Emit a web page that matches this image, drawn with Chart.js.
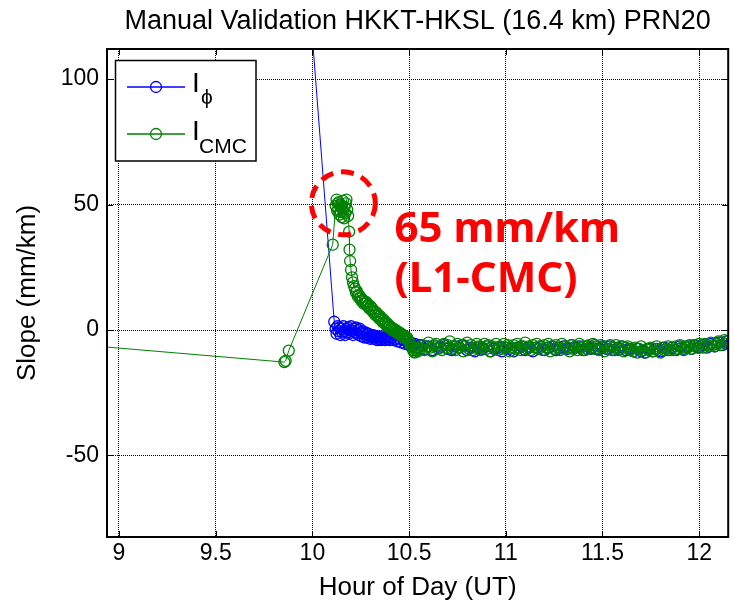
<!DOCTYPE html>
<html lang="en">
<head>
<meta charset="UTF-8">
<title>Manual Validation HKKT-HKSL (16.4 km) PRN20</title>
<script src="https://cdn.jsdelivr.net/npm/chart.js@4.4.1/dist/chart.umd.min.js"></script>
<style>
  html, body { margin: 0; padding: 0; background: #fff; }
  #wrap { width: 735px; height: 605px; position: relative; }
</style>
</head>
<body>
<div id="wrap"><canvas id="slopeChart"></canvas></div>
<script>
// axis ticks
const xTicks = [9, 9.5, 10, 10.5, 11, 11.5, 12];
const yTicks = [-50, 0, 50, 100];

// I_phi (blue)
const phiHours = [
  9.90, 10.113,
  10.120, 10.125, 10.130, 10.135, 10.140, 10.145, 10.150, 10.155, 10.160, 10.165,
  10.170, 10.175, 10.180, 10.185, 10.190, 10.195, 10.200, 10.205, 10.210, 10.215,
  10.220, 10.225, 10.230, 10.235, 10.240, 10.245, 10.250, 10.255, 10.260, 10.265,
  10.270, 10.275, 10.280, 10.285, 10.290, 10.295, 10.300, 10.305, 10.310, 10.315,
  10.320, 10.325, 10.330, 10.335, 10.340, 10.345, 10.350, 10.355, 10.360, 10.365,
  10.370, 10.375, 10.380, 10.385, 10.390, 10.395, 10.400,
  10.41, 10.42, 10.43, 10.44, 10.45, 10.46, 10.47, 10.48, 10.49, 10.50,
  10.51, 10.52, 10.53, 10.54, 10.55,
  10.56, 10.58, 10.60, 10.62, 10.64, 10.66, 10.68, 10.70, 10.72, 10.74,
  10.76, 10.78, 10.80, 10.82, 10.84, 10.86, 10.88, 10.90, 10.92, 10.94,
  10.96, 10.98, 11.00, 11.02, 11.04, 11.06, 11.08, 11.10, 11.12, 11.14,
  11.16, 11.18, 11.20, 11.22, 11.24, 11.26, 11.28, 11.30, 11.32, 11.34,
  11.36, 11.38, 11.40, 11.42, 11.44, 11.46, 11.48, 11.50, 11.52, 11.54,
  11.56, 11.58, 11.60, 11.62, 11.64, 11.66, 11.68, 11.70, 11.72, 11.74,
  11.76, 11.78, 11.80, 11.82, 11.84, 11.86, 11.88, 11.90, 11.92, 11.94,
  11.96, 11.98, 12.00, 12.02, 12.04, 12.06, 12.08, 12.10, 12.12, 12.14,
  12.16
];
const phiSlope = [
  217, 3.3,
  0.5, -1.5, 1.5, -0.5, 1.0, -2.0, 0.5, -1.0, 1.5, -0.5,
  -2.0, 0.5, -1.0, 1.0, -1.5, 0.0, 1.5, -0.5, -2.0, 0.5,
  -1.0, 1.0, -1.5, 0.0, -2.0, 0.5, -1.0, -2.5, -0.5, -1.5,
  -3.0, -1.0, -2.0, -3.0, -1.5, -2.5, -3.5, -2.0, -3.0, -2.0,
  -3.5, -2.5, -3.0, -4.0, -2.5, -3.5, -3.0, -4.0, -2.5, -3.5,
  -3.0, -4.0, -3.0, -2.5, -3.5, -3.0, -4.0,
  -3.0, -4.0, -3.5, -4.5, -3.5, -5.0, -4.0, -5.5, -4.5, -6.0,
  -5.0, -6.5, -5.5, -7.0, -6.0,
  -6.0, -7.5, -6.5, -8.0, -6.5, -7.0, -6.0, -7.5, -8.0, -6.5,
  -7.0, -6.0, -8.0, -7.0, -8.5, -7.0, -7.5, -6.5, -8.5, -7.5,
  -7.0, -8.5, -7.0, -7.5, -8.5, -7.0, -6.5, -8.0, -7.0, -8.5,
  -7.0, -6.5, -8.0, -7.0, -6.5, -8.0, -7.0, -6.5, -7.5, -6.0,
  -7.0, -6.5, -8.0, -6.5, -7.5, -6.0, -7.5, -6.5, -7.5, -6.5,
  -8.0, -7.0, -6.5, -8.0, -7.5, -8.5, -7.5, -8.5, -9.0, -7.5,
  -8.5, -7.5, -8.5, -7.0, -8.0, -7.0, -8.0, -6.5, -7.5, -6.5,
  -7.5, -6.0, -7.0, -6.0, -7.0, -5.5, -6.5, -5.0, -6.0, -4.5,
  -5.5
];

// I_CMC (green)
const cmcHours = [
  8.80, 9.855, 9.862, 9.878, 10.105,
  10.120, 10.125, 10.128, 10.131, 10.134, 10.137, 10.140, 10.143, 10.146, 10.149,
  10.152, 10.155, 10.158, 10.161, 10.164, 10.167, 10.170, 10.173, 10.176, 10.180,
  10.185,
  10.190, 10.192, 10.195, 10.200, 10.205, 10.210, 10.215, 10.220, 10.225, 10.230,
  10.235, 10.240, 10.245, 10.250, 10.255, 10.260, 10.265, 10.270, 10.275, 10.280,
  10.285, 10.290, 10.295, 10.300, 10.305, 10.310, 10.315, 10.320, 10.325, 10.330,
  10.335, 10.340, 10.345, 10.350, 10.355, 10.360, 10.365, 10.370, 10.375, 10.380,
  10.385, 10.390, 10.395, 10.400, 10.405, 10.410, 10.415, 10.420, 10.425, 10.430,
  10.435, 10.440, 10.445, 10.450, 10.455, 10.460, 10.465, 10.470, 10.475, 10.480,
  10.485, 10.490, 10.495, 10.500, 10.505, 10.510, 10.515, 10.520, 10.525, 10.530,
  10.535, 10.540, 10.545, 10.550,
  10.56, 10.57, 10.58, 10.59, 10.60, 10.61, 10.62, 10.63, 10.64, 10.65,
  10.66, 10.67, 10.68, 10.69, 10.70, 10.71, 10.72, 10.73, 10.74, 10.75,
  10.76, 10.77, 10.78, 10.79, 10.80, 10.81, 10.82, 10.83, 10.84, 10.85,
  10.86, 10.87, 10.88, 10.89, 10.90, 10.91, 10.92, 10.93, 10.94, 10.95,
  10.96, 10.97, 10.98, 10.99, 11.00, 11.01, 11.02, 11.03, 11.04, 11.05,
  11.06, 11.07, 11.08, 11.09, 11.10, 11.11, 11.12, 11.13, 11.14, 11.15,
  11.16, 11.17, 11.18, 11.19, 11.20, 11.21, 11.22, 11.23, 11.24, 11.25,
  11.26, 11.27, 11.28, 11.29, 11.30, 11.31, 11.32, 11.33, 11.34, 11.35,
  11.36, 11.37, 11.38, 11.39, 11.40, 11.41, 11.42, 11.43, 11.44, 11.45,
  11.46, 11.47, 11.48, 11.49, 11.50, 11.51, 11.52, 11.53, 11.54, 11.55,
  11.56, 11.57, 11.58, 11.59, 11.60, 11.61, 11.62, 11.63, 11.64, 11.65,
  11.66, 11.67, 11.68, 11.69, 11.70, 11.71, 11.72, 11.73, 11.74, 11.75,
  11.76, 11.77, 11.78, 11.79, 11.80, 11.81, 11.82, 11.83, 11.84, 11.85,
  11.86, 11.87, 11.88, 11.89, 11.90, 11.91, 11.92, 11.93, 11.94, 11.95,
  11.96, 11.97, 11.98, 11.99, 12.00, 12.01, 12.02, 12.03, 12.04, 12.05,
  12.06, 12.07, 12.08, 12.09, 12.10, 12.11, 12.12, 12.13, 12.14, 12.15
];
const cmcSlope = [
  -5.9, -12.8, -12.3, -8.2, 34.0,
  49.5, 52.0, 47.5, 50.5, 48.0, 51.0, 46.0, 50.0, 47.0, 49.5,
  45.0, 48.5, 51.5, 47.0, 44.5, 49.0, 46.5, 50.5, 52.0, 48.0,
  45.5,
  39.2, 32.0, 27.5, 24.0, 21.0, 19.0, 17.5, 16.5, 15.0, 15.5,
  13.5, 14.0, 12.5, 13.0, 11.5, 12.0, 10.5, 11.5, 10.5, 11.0,
  9.5, 10.0, 8.5, 9.5, 8.0, 8.5, 7.0, 7.5, 6.0, 7.0,
  5.5, 6.0, 4.5, 5.5, 4.0, 4.5, 3.0, 4.0, 2.5, 3.0,
  1.5, 2.5, 1.0, 1.5, 0.5, 1.0, 0.0, 0.5, -0.5, 0.0,
  -1.0, -0.5, -1.5, -1.0, -2.0, -1.5, -2.5, -2.0, -3.0, -2.5,
  -3.5, -3.0, -4.0, -4.5, -5.5, -6.0, -7.0, -8.0, -8.6, -9.0,
  -8.0, -7.5, -8.5, -7.0,
  -7.5, -6.0, -8.0, -6.5, -5.0, -7.0, -8.5, -6.0, -5.5, -7.5,
  -6.5, -8.0, -5.5, -7.0, -6.0, -4.5, -7.5, -6.5, -8.0, -5.5,
  -7.0, -6.0, -8.5, -6.5, -5.0, -7.5, -6.0, -8.0, -7.0, -5.5,
  -6.5, -8.0, -7.0, -5.5, -7.5, -6.0, -8.5, -6.5, -7.0, -5.5,
  -8.0, -6.5, -7.5, -5.5, -7.0, -6.0, -8.5, -7.0, -6.0, -7.5,
  -5.5, -7.0, -8.0, -6.5, -5.0, -7.5, -6.5, -8.0, -6.0, -7.0,
  -5.5, -7.5, -6.5, -8.0, -6.0, -7.0, -5.5, -8.5, -6.5, -7.5,
  -6.0, -7.0, -8.0, -5.5, -7.5, -6.5, -7.0, -8.5, -6.0, -7.5,
  -6.5, -8.0, -5.5, -7.0, -6.5, -8.0, -7.5, -6.0, -7.0, -5.5,
  -7.5, -6.5, -8.0, -6.0, -7.0, -8.5, -6.5, -7.5, -6.0, -8.0,
  -7.0, -6.0, -8.0, -7.5, -6.5, -8.5, -7.0, -6.5, -8.0, -7.5,
  -8.5, -7.0, -9.0, -7.5, -6.5, -8.0, -9.0, -7.5, -8.0, -7.0,
  -8.5, -7.5, -6.5, -8.0, -9.0, -7.0, -8.0, -7.5, -6.5, -8.0,
  -7.0, -8.0, -6.5, -7.5, -6.0, -7.0, -8.0, -6.5, -7.0, -6.0,
  -7.5, -6.0, -6.5, -7.0, -5.5, -6.5, -7.0, -5.5, -6.0, -6.5,
  -5.0, -6.0, -6.5, -5.5, -4.5, -6.0, -5.0, -4.0, -5.5, -4.5
];

const FONT = '"Liberation Sans", Arial, sans-serif';
const BLUE = '#0000ff';
const GREEN = '#008000';

function toPoints(hours, values) {
  return hours.map((h, i) => ({ x: h, y: values[i] }));
}

// box, inward ticks, legend, annotation and titles
const matlabFrame = {
  id: 'matlabFrame',
  afterDatasetsDraw(chart) {
    const ctx = chart.ctx;
    const a = chart.chartArea;
    const xs = chart.scales.x;
    const ys = chart.scales.y;
    ctx.save();

    // inward ticks
    ctx.strokeStyle = '#000';
    ctx.lineWidth = 1;
    ctx.setLineDash([]);
    ctx.beginPath();
    xTicks.forEach(v => {
      const px = Math.round(xs.getPixelForValue(v)) + 0.5;
      ctx.moveTo(px, a.bottom); ctx.lineTo(px, a.bottom - 6);
      ctx.moveTo(px, a.top); ctx.lineTo(px, a.top + 6);
    });
    yTicks.forEach(v => {
      const py = Math.round(ys.getPixelForValue(v)) + 0.5;
      ctx.moveTo(a.left, py); ctx.lineTo(a.left + 6, py);
      ctx.moveTo(a.right, py); ctx.lineTo(a.right - 6, py);
    });
    ctx.stroke();

    // axes box
    ctx.lineWidth = 2;
    ctx.strokeRect(a.left, a.top, a.right - a.left, a.bottom - a.top);

    // legend
    ctx.fillStyle = '#fff';
    ctx.fillRect(115.5, 60.5, 140.5, 100.5);
    ctx.lineWidth = 1.5;
    ctx.strokeStyle = '#000';
    ctx.strokeRect(115.5, 60.5, 140.5, 100.5);
    [[BLUE, 87], [GREEN, 134]].forEach(([c, y]) => {
      ctx.strokeStyle = c;
      ctx.lineWidth = 1.3;
      ctx.beginPath();
      ctx.moveTo(127, y); ctx.lineTo(185, y);
      ctx.stroke();
      ctx.beginPath();
      ctx.arc(156, y, 5.5, 0, Math.PI * 2);
      ctx.stroke();
    });
    ctx.fillStyle = '#000';
    ctx.textAlign = 'left';
    ctx.textBaseline = 'alphabetic';
    ctx.font = '28px ' + FONT;
    ctx.fillText('I', 192, 92);
    ctx.fillText('I', 192, 140);
    ctx.font = '21px ' + FONT;
    ctx.fillText('\u03D5', 201, 104);
    ctx.fillText('CMC', 199, 153);

    // red dashed circle + label
    const cx = xs.getPixelForValue(10.16);
    const cy = ys.getPixelForValue(50.5);
    ctx.strokeStyle = '#ff0000';
    ctx.lineWidth = 5;
    ctx.setLineDash([13, 8]);
    ctx.beginPath();
    ctx.ellipse(cx, cy, 32, 31.5, 0, 0, Math.PI * 2);
    ctx.stroke();
    ctx.setLineDash([]);
    ctx.fillStyle = '#ff0000';
    ctx.font = 'bold 42px "Noto Sans", sans-serif';
    const tx = xs.getPixelForValue(10.425);
    ctx.fillText('65 mm/km', tx, ys.getPixelForValue(35.2));
    ctx.fillText('(L1-CMC)', tx, ys.getPixelForValue(15.3));

    ctx.restore();
  },
  afterDraw(chart) {
    const ctx = chart.ctx;
    const a = chart.chartArea;
    const midX = (a.left + a.right) / 2;
    ctx.save();
    ctx.fillStyle = '#000';
    ctx.textAlign = 'center';
    ctx.textBaseline = 'alphabetic';
    ctx.font = '27px ' + FONT;
    ctx.fillText('Manual Validation HKKT-HKSL (16.4 km) PRN20', midX, 29);
    ctx.font = '26px ' + FONT;
    ctx.fillText('Hour of Day (UT)', midX, 595);
    ctx.textBaseline = 'middle';
    ctx.translate(28, (a.top + a.bottom) / 2);
    ctx.rotate(-Math.PI / 2);
    ctx.fillText('Slope (mm/km)', 0, 0);
    ctx.restore();
  }
};

new Chart(document.getElementById('slopeChart').getContext('2d'), {
  type: 'scatter',
  data: {
    datasets: [
      {
        label: 'I_phi',
        data: toPoints(phiHours, phiSlope),
        showLine: true,
        borderColor: BLUE,
        borderWidth: 1,
        backgroundColor: 'rgba(0,0,0,0)',
        pointRadius: 5.5,
        pointBorderWidth: 1.3,
        pointBorderColor: BLUE,
        order: 1
      },
      {
        label: 'I_CMC',
        data: toPoints(cmcHours, cmcSlope),
        showLine: true,
        borderColor: GREEN,
        borderWidth: 1,
        backgroundColor: 'rgba(0,0,0,0)',
        pointRadius: 5.5,
        pointBorderWidth: 1.3,
        pointBorderColor: GREEN,
        order: 0
      }
    ]
  },
  options: {
    responsive: true,
    maintainAspectRatio: false,
    animation: false,
    devicePixelRatio: 1,
    layout: { padding: { top: 49, right: 5, bottom: 0, left: 0 } },
    plugins: {
      legend: { display: false },
      tooltip: { enabled: false }
    },
    scales: {
      x: {
        type: 'linear',
        min: 8.938,
        max: 12.15,
        afterFit: s => { s.height = 68; },
        afterBuildTicks: s => { s.ticks = xTicks.map(v => ({ value: v })); },
        ticks: {
          color: '#000', font: { family: FONT, size: 23 }, padding: 3, maxRotation: 0, autoSkip: false,
          callback: v => String(v)
        },
        grid: { color: '#000', lineWidth: 1, drawTicks: false },
        border: { display: false, dash: [1, 1] }
      },
      y: {
        min: -82.5,
        max: 112,
        afterFit: s => { s.width = 107; },
        afterBuildTicks: s => { s.ticks = yTicks.map(v => ({ value: v })); },
        ticks: { color: '#000', font: { family: FONT, size: 23 }, padding: 8, callback: v => String(v) },
        grid: { color: '#000', lineWidth: 1, drawTicks: false },
        border: { display: false, dash: [1, 1] }
      }
    }
  },
  plugins: [matlabFrame]
});
</script>
</body>
</html>
